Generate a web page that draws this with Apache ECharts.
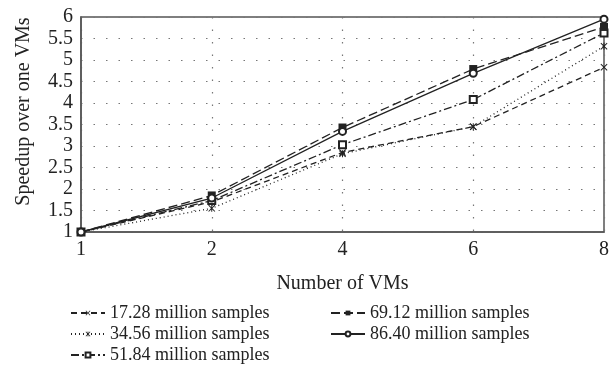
<!DOCTYPE html>
<html>
<head>
<meta charset="utf-8">
<script src="https://cdn.jsdelivr.net/npm/echarts@6/dist/echarts.min.js"></script>
<style>
  html, body { margin:0; padding:0; background:#fff; }
  #chart { width:615px; height:391px; }
</style>
</head>
<body>
<div id="chart"></div>
<script>
// number of VMs (category axis, evenly spaced)
const vms = ['1', '2', '4', '6', '8'];
const s1728 = [1, 1.70, 2.85, 3.45, 4.83];
const s3456 = [1, 1.55, 2.82, 3.45, 5.32];
const s5184 = [1, 1.73, 3.03, 4.08, 5.63];
const s6912 = [1, 1.85, 3.43, 4.79, 5.77];
const s8640 = [1, 1.79, 3.34, 4.69, 5.95];

const crossPath = 'path://M1,0 L5,4 L9,0 L10,1 L6,5 L10,9 L9,10 L5,6 L1,10 L0,9 L4,5 L0,1 Z';
const starPath = 'path://M1,0 L5,4 L9,0 L10,1 L6,5 L10,9 L9,10 L5,6 L1,10 L0,9 L4,5 L0,1 Z M4.3,0 L5.7,0 L5.7,10 L4.3,10 Z';

const ink = '#222';
const font = '"Liberation Serif", "DejaVu Serif", serif';

function mkSeries(name, data, dash, symbol, size){
    return {
        type:'line',
        name:name,
        data:data,
        symbol:symbol,
        symbolSize:size,
        showAllSymbol:true,
        lineStyle:{ color:ink, width:1.3, type:dash },
        itemStyle:{ color:ink, borderWidth:1.2 },
        emphasis:{ disabled:true },
        z:3
    };
}

const legendBase = {
    orient:'vertical',
    top:299,
    itemWidth:34, itemHeight:6, itemGap:3,
    textStyle:{ fontFamily:font, fontSize:18, color:ink }
};

const myChart = echarts.init(document.getElementById('chart'));
const option = {
    animation:false,
    textStyle:{ fontFamily:font },
    grid:{
        left:81, right:11, top:17, bottom:159,
        show:true, borderColor:'#555', borderWidth:1.5
    },
    legend:[
        Object.assign({}, legendBase, {
            left:65,
            data:['17.28 million samples', '34.56 million samples', '51.84 million samples']
        }),
        Object.assign({}, legendBase, {
            left:325,
            data:['69.12 million samples', '86.40 million samples']
        })
    ],
    xAxis:{
        type:'category',
        data:vms,
        boundaryGap:false,
        name:'Number of VMs',
        nameLocation:'middle',
        nameGap:42,
        nameTextStyle:{ fontFamily:font, fontSize:20, color:ink },
        axisLine:{ lineStyle:{ color:'#555', width:1.5 } },
        axisTick:{ show:false },
        axisLabel:{ fontFamily:font, fontSize:20, color:ink, margin:8 },
        splitLine:{ show:true, lineStyle:{ color:'#777', type:[1.5,11], width:1.2 } }
    },
    yAxis:{
        type:'value',
        min:1, max:6, interval:0.5,
        name:'Speedup over one VMs',
        nameLocation:'middle',
        nameGap:47,
        nameTextStyle:{ fontFamily:font, fontSize:20, color:ink, padding:[0,0,0,26] },
        axisLine:{ show:true, lineStyle:{ color:'#555', width:1.5 } },
        axisTick:{ show:false },
        axisLabel:{ fontFamily:font, fontSize:20, color:ink, margin:8 },
        splitLine:{ show:true, lineStyle:{ color:'#777', type:[1.5,11], width:1.2 } }
    },
    series:[
        mkSeries('17.28 million samples', s1728, [6,4], crossPath, 7),
        mkSeries('34.56 million samples', s3456, [1,3], starPath, 7),
        mkSeries('51.84 million samples', s5184, [8,3,2,3], 'emptyRect', 7),
        mkSeries('69.12 million samples', s6912, [9,4], 'rect', 8),
        mkSeries('86.40 million samples', s8640, 'solid', 'emptyCircle', 7)
    ]
};
myChart.setOption(option);
</script>
</body>
</html>
